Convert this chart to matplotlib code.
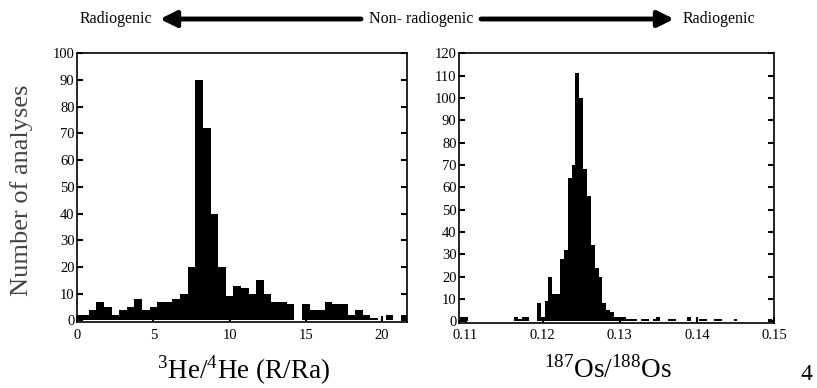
import numpy as np
import matplotlib
matplotlib.use("Agg")
import matplotlib.pyplot as plt

plt.rcParams["font.family"] = ["Liberation Serif", "DejaVu Serif"]
plt.rcParams["mathtext.fontset"] = "custom"
plt.rcParams["mathtext.rm"] = "Liberation Serif"

# 3He/4He histogram, bins 0.5 wide centred on 0, 0.5, 1.0 ...
he_first_center = 0.0
he_bin_width = 0.5
he_counts = [2, 2, 4, 7, 5, 2, 4, 5, 8, 4,
             5, 7, 7, 8, 10, 20, 90, 72, 40, 20,
             9, 13, 12, 10, 15, 10, 7, 7, 6, 0,
             6, 4, 4, 7, 6, 6, 2, 4, 2, 1,
             0, 2, 0, 2]
he_ticks = [0, 5, 10, 15, 20]

# 187Os/188Os histogram, bins 0.0005 wide (non-empty bins only)
os_bin_width = 0.0005
os_centers = [0.1095, 0.1100, 0.1165, 0.1170, 0.1175, 0.1180, 0.1195, 0.1200,
              0.1205, 0.1210, 0.1215, 0.1220, 0.1225, 0.1230, 0.1235, 0.1240,
              0.1245, 0.1250, 0.1255, 0.1260, 0.1265, 0.1270, 0.1275, 0.1280,
              0.1285, 0.1290, 0.1295, 0.1300, 0.1305, 0.1310, 0.1315, 0.1320,
              0.1330, 0.1335, 0.1345, 0.1350, 0.1365, 0.1370, 0.1390, 0.1405,
              0.1410, 0.1425, 0.1430, 0.1450, 0.1495]
os_counts = [2, 2, 2, 1, 2, 2, 8, 2,
             9, 20, 12, 12, 28, 32, 64, 70,
             111, 100, 68, 56, 34, 24, 20, 8,
             5, 4, 2, 2, 2, 1, 1, 1,
             1, 1, 1, 2, 1, 1, 2, 1,
             1, 1, 1, 1, 1]
os_ticks = [0.11, 0.12, 0.13, 0.14, 0.15]
os_ticklabels = ["0.11", "0.12", "0.13", "0.14", "0.15"]

W, H = 817, 388
fig = plt.figure(figsize=(W / 100, H / 100), dpi=100)


def style(ax):
    for s in ax.spines.values():
        s.set_linewidth(1.2)
    ax.tick_params(direction="in", length=4, width=1.5, labelsize=10.5,
                   left=True, right=True, top=False, bottom=True)
    ax.tick_params(axis="y", pad=2)
    ax.tick_params(axis="x", pad=5)


ax1 = fig.add_axes([77.3 / W, 1 - 322 / H, (407 - 77.3) / W, (322 - 53.3) / H])
he_centers = he_first_center + he_bin_width * np.arange(len(he_counts))
ax1.bar(he_centers, he_counts, width=he_bin_width, color="black", linewidth=0)
ax1.set_xlim(0, 21.65)
ax1.set_ylim(-0.6, 100)
ax1.set_xticks(he_ticks)
ax1.set_yticks(np.arange(0, 101, 10))
style(ax1)

ax2 = fig.add_axes([459.3 / W, 1 - 322.5 / H, (774 - 459.3) / W, (322.5 - 53.3) / H])
ax2.bar(os_centers, os_counts, width=os_bin_width, color="black", linewidth=0)
ax2.set_xlim(0.10918, 0.15)
ax2.set_ylim(-0.6, 120)
ax2.set_xticks(os_ticks)
ax2.set_xticklabels(os_ticklabels)
ax2.set_yticks(np.arange(0, 121, 10))
style(ax2)

fig.text(22 / W, 1 - 190 / H, "Number of analyses", rotation=90,
         ha="center", va="center", fontsize=19, color="#444444")
fig.text(244 / W, 1 - 370 / H, r"$^{3}$He/$^{4}$He (R/Ra)",
         ha="center", va="center", fontsize=19.5)
fig.text(608 / W, 1 - 370 / H, r"$^{187}$Os/$^{188}$Os",
         ha="center", va="center", fontsize=19.5)
fig.text(806 / W, 1 - 374 / H, "4", ha="center", va="center", fontsize=17)

# top arrow banner
ty = 1 - 19 / H
fig.text(116 / W, ty, "Radiogenic", ha="center", va="center", fontsize=11.5)
fig.text(421 / W, ty, "Non- radiogenic", ha="center", va="center", fontsize=11.5)
fig.text(719 / W, ty, "Radiogenic", ha="center", va="center", fontsize=11.5)
arrow = dict(arrowstyle="-|>,head_length=0.8,head_width=0.4", lw=3.5,
             color="black", shrinkA=0, shrinkB=0, mutation_scale=12)
fig.add_artist(matplotlib.patches.FancyArrowPatch(
    (361 / W, ty), (160 / W, ty), transform=fig.transFigure, **arrow))
fig.add_artist(matplotlib.patches.FancyArrowPatch(
    (481 / W, ty), (674 / W, ty), transform=fig.transFigure, **arrow))

fig.savefig("out.png", dpi=100)
